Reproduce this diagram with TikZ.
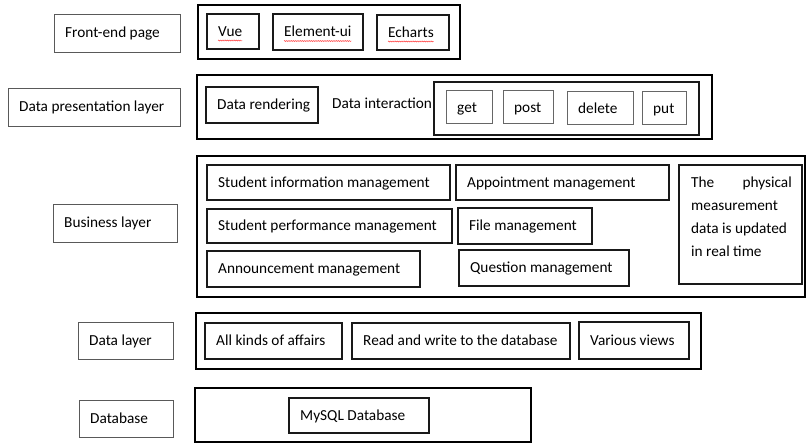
\documentclass[tikz,border=0pt]{standalone}
\usepackage{fontspec}
\setmainfont{Carlito}
\usetikzlibrary{fit,calc,decorations.pathmorphing}
\tikzset{
  outerbox/.style={draw=black, line width=2.8pt},
  innerbox/.style={draw=black!90, line width=1.7pt},
  labelbox/.style={draw=black!65, line width=0.9pt},
  thinbox/.style={draw=black!60, line width=1pt},
  lbl/.style={font=\fontsize{15.3}{18}\selectfont, text=black, inner sep=0pt},
  spell/.style={draw=red!75, line width=0.45pt, decorate, decoration={snake, amplitude=0.5pt, segment length=1.8pt}}
}
% style, name, x1, y1, x2, y2, text
\newcommand\bx[7]{%
  \node[#1, fit={(#3,#4) (#5,#6)}, inner sep=0pt] (#2) {};
  \node[lbl, anchor=base west] (#2-t) at ($(#3,#4)!0.5!(#3,#6)+(11,5)$) {#7};}
\newcommand\frm[6]{%
  \node[#1, fit={(#3,#4) (#5,#6)}, inner sep=0pt] (#2) {};}
\begin{document}
\begin{tikzpicture}[x=1pt,y=-1pt]
\useasboundingbox (0,0) rectangle (807,443);
\fill[white] (0,0) rectangle (807,443);

% Left labels
\bx{labelbox}{fe}{54}{14}{180}{52}{Front-end page}
\bx{labelbox}{dp}{8}{88}{180}{126}{Data presentation layer}
\bx{labelbox}{bl}{53}{204}{177}{242}{Business layer}
\bx{labelbox}{dl}{78}{322}{173}{359}{Data layer}
\bx{labelbox}{db}{79}{400}{173}{437}{Database}

% Front-end page row
\frm{outerbox}{feo}{198}{5}{460}{59}
\bx{innerbox}{vue}{207}{14}{259}{49}{Vue}
\bx{innerbox}{elem}{273}{14}{363}{50}{Element-ui}
\bx{innerbox}{ech}{377}{15}{449}{50}{Echarts}
\draw[spell] ($(vue-t.base west)+(0,4)$) -- ($(vue-t.base east)+(0,4)$);
\draw[spell] ($(elem-t.base west)+(0,4)$) -- ($(elem-t.base east)+(0,4)$);
\draw[spell] ($(ech-t.base west)+(0,4)$) -- ($(ech-t.base east)+(0,4)$);

% Data presentation row
\frm{outerbox}{dpo}{197}{75}{712}{139}
\bx{innerbox}{rend}{206}{87}{318}{123}{Data rendering}
\node[lbl, anchor=base west] (inter) at (332,109) {Data interaction};
\frm{innerbox}{meth}{434}{82}{699}{135}
\bx{thinbox}{get}{446}{91}{492}{124}{get}
\bx{thinbox}{post}{503}{91}{553}{124}{post}
\bx{thinbox}{del}{567}{92}{633}{125}{delete}
\bx{thinbox}{put}{642}{92}{686}{125}{put}

% Business row
\frm{outerbox}{blo}{197}{156}{805}{297}
\bx{innerbox}{sim}{207}{165}{450}{200}{Student information management}
\bx{innerbox}{spm}{207}{209}{452}{243}{Student performance management}
\bx{innerbox}{anm}{207}{251}{420}{287}{Announcement management}
\bx{innerbox}{apm}{456}{165}{669}{200}{Appointment management}
\bx{innerbox}{flm}{458}{208}{592}{244}{File management}
\bx{innerbox}{qum}{459}{250}{629}{286}{Question management}
\frm{innerbox}{phy}{679}{165}{802}{284}
\node[lbl, anchor=base west] (phy1a) at (691,188) {The};
\node[lbl, anchor=base east] (phy1b) at (792,188) {physical};
\node[lbl, anchor=base west] (phy2) at (691,211) {measurement};
\node[lbl, anchor=base west] (phy3) at (691,234) {data is updated};
\node[lbl, anchor=base west] (phy4) at (691,257) {in real time};

% Data layer row
\frm{outerbox}{dlo}{196}{313}{701}{369}
\bx{innerbox}{aka}{205}{323}{342}{359}{All kinds of affairs}
\bx{innerbox}{rw}{352}{323}{570}{359}{Read and write to the database}
\bx{innerbox}{vv}{579}{322}{689}{359}{Various views}

% Database row
\frm{outerbox}{dbo}{195}{388}{531}{442}
\bx{innerbox}{mys}{289}{398}{429}{433}{MySQL Database}
\end{tikzpicture}
\end{document}
